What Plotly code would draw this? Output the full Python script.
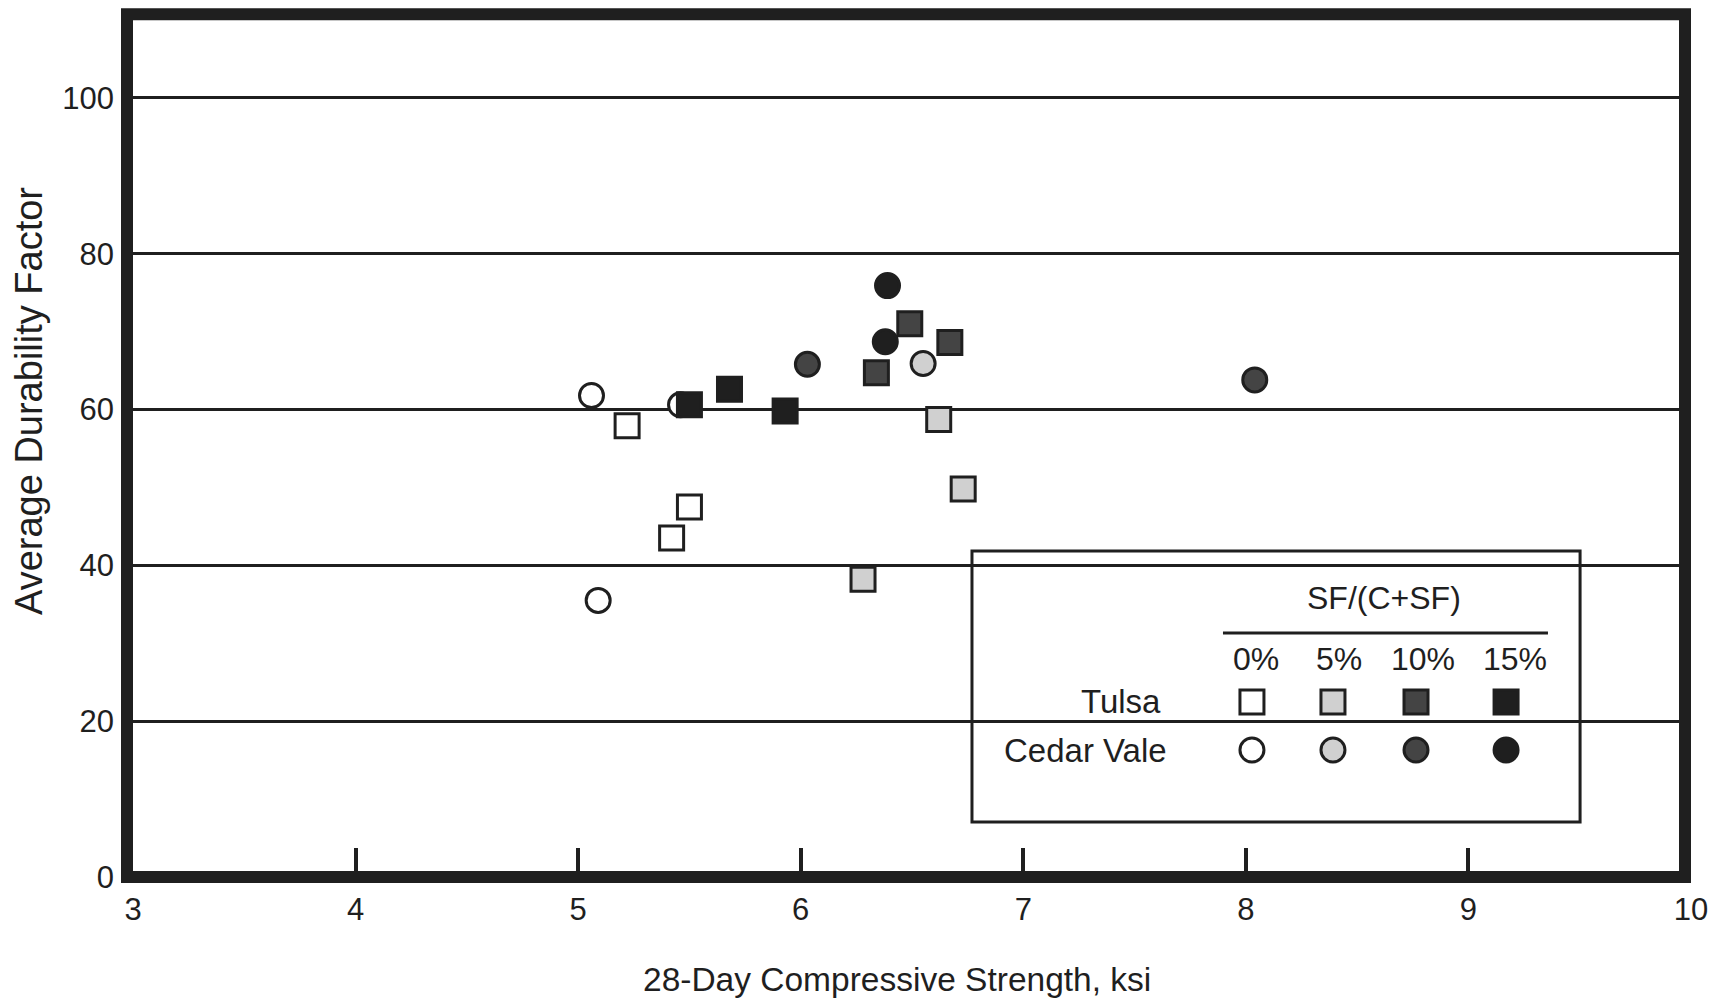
import plotly.graph_objects as go

# ---------------- data ----------------
tulsa_0_x = [5.22, 5.42, 5.50]
tulsa_0_y = [57.9, 43.5, 47.5]
tulsa_5_x = [6.28, 6.62, 6.73]
tulsa_5_y = [38.2, 58.7, 49.8]
tulsa_10_x = [6.34, 6.49, 6.67]
tulsa_10_y = [64.7, 71.0, 68.6]
tulsa_15_x = [5.50, 5.68, 5.93]
tulsa_15_y = [60.6, 62.6, 59.8]

cedar_0_x = [5.06, 5.09, 5.46]
cedar_0_y = [61.8, 35.5, 60.6]
cedar_5_x = [6.55]
cedar_5_y = [65.9]
cedar_10_x = [6.03, 8.04]
cedar_10_y = [65.8, 63.8]
cedar_15_x = [6.39, 6.38]
cedar_15_y = [75.9, 68.7]

x_ticks = [3, 4, 5, 6, 7, 8, 9, 10]
y_ticks = [0, 20, 40, 60, 80, 100]
pct_labels = ["0%", "5%", "10%", "15%"]
row_labels = ["Tulsa", "Cedar Vale"]

# ---------------- styles ----------------
INK = "#1f1f1f"
FONT = "Liberation Sans, Arial, Helvetica, sans-serif"
FILLS = {"0%": "#ffffff", "5%": "#d0d0d0", "10%": "#444444", "15%": "#1f1f1f"}
MSIZE = 24
MLINE = 3

fig = go.Figure()


def add_series(xs, ys, symbol, pct, name):
    fig.add_trace(go.Scatter(
        x=xs, y=ys, mode="markers", name=name, showlegend=False,
        marker=dict(symbol=symbol, size=MSIZE, color=FILLS[pct],
                    line=dict(color=INK, width=MLINE)),
    ))


# draw order chosen to reproduce overlaps in the reference
add_series(cedar_0_x, cedar_0_y, "circle", "0%", "Cedar Vale 0%")
add_series(tulsa_0_x, tulsa_0_y, "square", "0%", "Tulsa 0%")
add_series(tulsa_5_x, tulsa_5_y, "square", "5%", "Tulsa 5%")
add_series(tulsa_10_x, tulsa_10_y, "square", "10%", "Tulsa 10%")
add_series(tulsa_15_x, tulsa_15_y, "square", "15%", "Tulsa 15%")
add_series(cedar_5_x, cedar_5_y, "circle", "5%", "Cedar Vale 5%")
add_series(cedar_10_x, cedar_10_y, "circle", "10%", "Cedar Vale 10%")
add_series(cedar_15_x, cedar_15_y, "circle", "15%", "Cedar Vale 15%")

# ---------------- custom legend (layout positions in paper fractions) ----------------
LEG_BOX = dict(x0=0.5385, x1=0.9288, y0=0.0639, y1=0.3786)
LEG_KEY_X = [0.7182, 0.7702, 0.8235, 0.8813]
LEG_LABEL_X = [0.7208, 0.7741, 0.8280, 0.8870]
LEG_ROW_Y = [0.2033, 0.1475]
LEG_PCT_Y = 0.2532
LEG_TITLE = dict(x=0.8030, y=0.3240)
LEG_RULE = dict(x0=0.6996, x1=0.9082, y=0.2834)
LEG_ROWLABEL_X = [0.6613, 0.6648]
FRAME = dict(x0=-0.00385, x1=0.99615, y0=0.0, y1=1.002)

for r, sym in enumerate(["square", "circle"]):
    fig.add_trace(go.Scatter(
        x=LEG_KEY_X, y=[LEG_ROW_Y[r]] * 4, xaxis="x2", yaxis="y2",
        mode="markers", showlegend=False, hoverinfo="skip",
        marker=dict(symbol=sym, size=MSIZE, color=[FILLS[p] for p in pct_labels],
                    line=dict(color=INK, width=MLINE)),
    ))

shapes = [
    dict(type="rect", xref="paper", yref="paper", layer="between",
         fillcolor="white", line=dict(color=INK, width=3), **LEG_BOX),
    dict(type="line", xref="paper", yref="paper", x0=LEG_RULE["x0"], x1=LEG_RULE["x1"],
         y0=LEG_RULE["y"], y1=LEG_RULE["y"], line=dict(color=INK, width=3)),
    # heavy plot frame
    dict(type="rect", xref="paper", yref="paper", layer="above",
         line=dict(color=INK, width=12), **FRAME),
]

annotations = [
    dict(text="SF/(C+SF)", x=LEG_TITLE["x"], y=LEG_TITLE["y"], xref="paper", yref="paper",
         showarrow=False, xanchor="center", yanchor="middle",
         font=dict(family=FONT, size=32, color=INK)),
]
for lx, t in zip(LEG_LABEL_X, pct_labels):
    annotations.append(dict(text=t, x=lx, y=LEG_PCT_Y, xref="paper", yref="paper",
                            showarrow=False, xanchor="center", yanchor="middle",
                            font=dict(family=FONT, size=32, color=INK)))
for rx, ry, t in zip(LEG_ROWLABEL_X, LEG_ROW_Y, row_labels):
    annotations.append(dict(text=t, x=rx, y=ry, xref="paper", yref="paper",
                            showarrow=False, xanchor="right", yanchor="middle",
                            font=dict(family=FONT, size=33, color=INK)))

# axis titles
annotations.append(dict(text="28-Day Compressive Strength, ksi", x=0.4904, y=-0.1196,
                        xref="paper", yref="paper", showarrow=False,
                        xanchor="center", yanchor="middle",
                        font=dict(family=FONT, size=33.5, color=INK)))
annotations.append(dict(text="Average Durability Factor", x=-0.0664, y=0.5523,
                        xref="paper", yref="paper", showarrow=False, textangle=-90,
                        xanchor="center", yanchor="middle",
                        font=dict(family=FONT, size=38, color=INK)))

fig.update_layout(
    width=1711, height=1002, autosize=False,
    margin=dict(l=133, r=20, t=16, b=125, pad=0, autoexpand=False),
    paper_bgcolor="white", plot_bgcolor="white",
    showlegend=False,
    font=dict(family=FONT, color=INK),
    xaxis=dict(range=[3, 10], tickvals=x_ticks, ticktext=[str(v) for v in x_ticks],
               ticks="inside", ticklen=29, tickwidth=4, tickcolor=INK,
               showgrid=False, zeroline=False, showline=False, automargin=False,
               tickfont=dict(family=FONT, size=31, color=INK),
               ticklabelstandoff=11),
    yaxis=dict(range=[0, 110.5], tickvals=y_ticks, ticktext=[str(v) for v in y_ticks],
               ticks="", showgrid=True, gridcolor=INK, gridwidth=3,
               zeroline=False, showline=False, automargin=False,
               tickfont=dict(family=FONT, size=31, color=INK),
               ticklabelstandoff=18),
    xaxis2=dict(overlaying="x", range=[0, 1], visible=False, fixedrange=True,
                automargin=False),
    yaxis2=dict(overlaying="y", range=[0, 1], visible=False, fixedrange=True,
                automargin=False),
    shapes=shapes,
    annotations=annotations,
)

fig.write_html("out.html")
